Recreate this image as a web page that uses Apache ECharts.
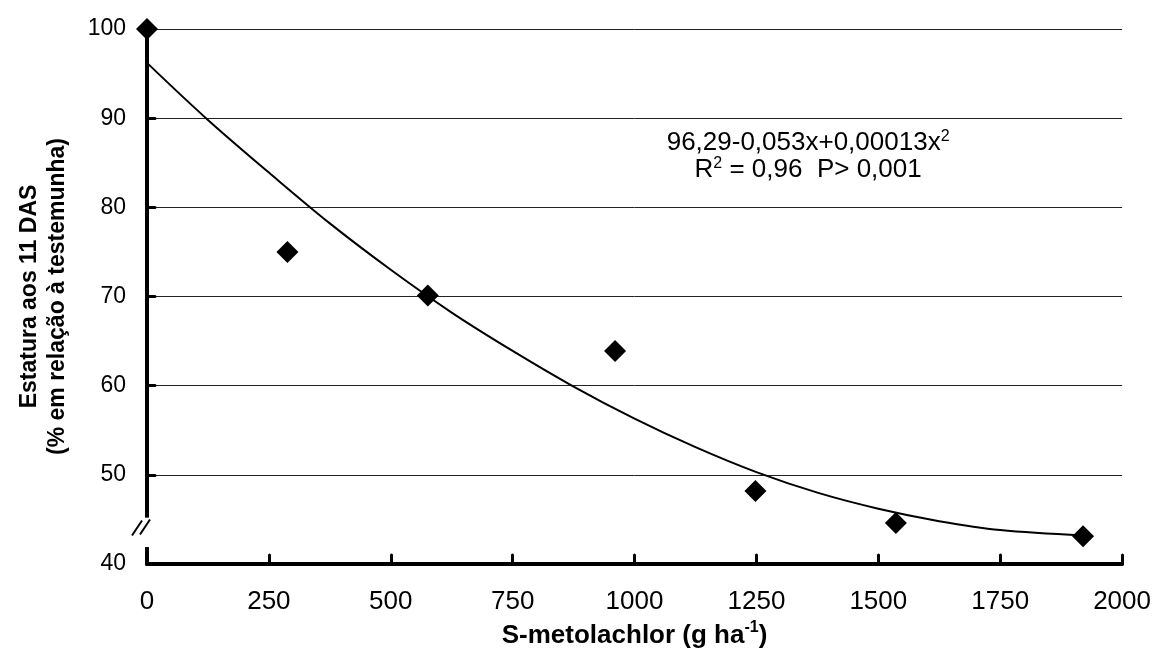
<!DOCTYPE html>
<html><head><meta charset="utf-8">
<script src="https://cdn.jsdelivr.net/npm/echarts@6/dist/echarts.min.js"></script>
<style>html,body{margin:0;padding:0;background:#fff}#c{width:1154px;height:668px}</style>
</head><body><div id="c"></div>
<script>
// Observed points (dose g/ha, height % of control)
const doses = [0, 288, 576, 960, 1248, 1536, 1920];
const estatura = [100, 75.0, 70.1, 63.9, 48.2, 44.6, 43.1];
// Fitted curve
const curveX = [0, 125, 250, 375, 500, 625, 750, 875, 1000, 1125, 1250, 1375, 1500, 1625, 1750, 1920];
const curveY = [96.2, 89.8, 83.9, 78.2, 73.0, 68.2, 63.9, 59.9, 56.3, 53.1, 50.3, 48.0, 46.2, 44.8, 43.8, 43.2];
const eqLine1 = '96,29-0,053x+0,00013x';
const eqLine2 = ' = 0,96  P> 0,001';
const yTitle = 'Estatura aos 11 DAS\n(% em relação à testemunha)';
const xTitle = 'S-metolachlor (g ha';

(function () {
const FONT = 'Liberation Sans, Arial, sans-serif';
const chart = echarts.init(document.getElementById('c'), null, {renderer: 'canvas'});
const pts = doses.map((d, i) => [d, estatura[i]]);
const curve = curveX.map((d, i) => [d, curveY[i]]);

chart.setOption({
  animation: false,
  backgroundColor: '#fff',
  grid: {left: 147, right: 29, top: 29, bottom: 104, containLabel: false},
  xAxis: {
    type: 'value', min: 0, max: 2000, interval: 250,
    axisLine: {show: true, onZero: false, lineStyle: {color: '#000', width: 4}},
    axisTick: {show: true, inside: true, length: 9, lineStyle: {color: '#000', width: 3, cap: 'round'}},
    axisLabel: {color: '#000', fontSize: 26, fontFamily: FONT, margin: 25, formatter: v => String(v)},
    splitLine: {show: false},
    name: '{b|' + xTitle + '}{s|-1}{b|)}',
    nameLocation: 'middle', nameGap: 54,
    nameTextStyle: {
      rich: {
        b: {fontSize: 26, fontWeight: 'bold', fontFamily: FONT, color: '#000', lineHeight: 32},
        s: {fontSize: 16, fontWeight: 'bold', fontFamily: FONT, color: '#000', lineHeight: 16, verticalAlign: 'top'}
      }
    }
  },
  yAxis: {
    type: 'value', min: 40, max: 100, interval: 10,
    axisLine: {show: true, onZero: false, lineStyle: {color: '#000', width: 4}},
    axisTick: {show: true, inside: true, length: 8, lineStyle: {color: '#000', width: 3, cap: 'round'}},
    axisLabel: {color: '#000', fontSize: 23, fontFamily: FONT, margin: 21, formatter: v => String(v)},
    splitLine: {show: true, lineStyle: {color: '#222', width: 1}},
    name: yTitle, nameLocation: 'middle', nameGap: 75, nameRotate: 90,
    nameTextStyle: {color: '#000', fontSize: 23, fontWeight: 'bold', fontFamily: FONT, lineHeight: 28}
  },
  series: [
    {
      type: 'line', data: curve, smooth: 0.35, showSymbol: false, symbol: 'none',
      lineStyle: {color: '#000', width: 2}, z: 2, silent: true
    },
    {
      type: 'scatter', data: pts,
      symbol: 'path://M0,-10L10,0L0,10L-10,0Z', symbolSize: 22,
      itemStyle: {color: '#000', opacity: 1}, z: 3, silent: true
    }
  ]
});

// axis break and annotation
const gTop = chart.convertToPixel({gridIndex: 0}, [0, 45.2]);
const gBot = chart.convertToPixel({gridIndex: 0}, [0, 41.9]);
const gMid = chart.convertToPixel({gridIndex: 0}, [0, 44.1]);
const ann = chart.convertToPixel({gridIndex: 0}, [1356, 88.8]);
chart.setOption({
  graphic: [
    {type: 'rect', z: 100, shape: {x: gTop[0] - 5, y: gTop[1], width: 10, height: gBot[1] - gTop[1]}, style: {fill: '#fff'}},
    {type: 'line', z: 101, shape: {x1: gMid[0] - 15, y1: gMid[1] + 8, x2: gMid[0] - 5, y2: gMid[1] - 7}, style: {stroke: '#000', lineWidth: 2}},
    {type: 'line', z: 101, shape: {x1: gMid[0] - 7, y1: gMid[1] + 7, x2: gMid[0] + 3, y2: gMid[1] - 8}, style: {stroke: '#000', lineWidth: 2}},
    {
      type: 'text', z: 101, x: ann[0], y: ann[1],
      style: {
        text: '{n|' + eqLine1 + '}{s|2}\n{n|R}{s|2}{n|' + eqLine2 + '}',
        align: 'center', verticalAlign: 'top',
        rich: {
          n: {fontSize: 26, fontFamily: FONT, fill: '#000', lineHeight: 27},
          s: {fontSize: 16, fontFamily: FONT, fill: '#000', lineHeight: 16, verticalAlign: 'top'}
        }
      }
    }
  ]
});
})();
</script>
</body></html>
